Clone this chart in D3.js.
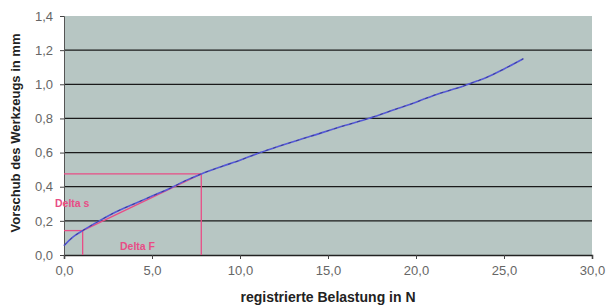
<!DOCTYPE html>
<html>
<head>
<meta charset="utf-8">
<script src="https://cdn.jsdelivr.net/npm/d3@7"></script>
<style>
body { margin: 0; background: #fff; }
text { font-family: "Liberation Sans", Arial, sans-serif; }
</style>
</head>
<body>
<svg width="607" height="307"></svg>
<script>
// Belastung (N) und Vorschub (mm)
var force = [0, 0.5, 1.06, 2, 3, 4, 5, 6, 7, 7.8, 9, 10, 11, 12, 14, 16, 17.3, 19, 20, 21, 22.7, 23.5, 24, 25, 26.1];
var feed = [0.055, 0.105, 0.143, 0.2, 0.255, 0.3, 0.345, 0.39, 0.44, 0.475, 0.52, 0.555, 0.595, 0.63, 0.695, 0.76, 0.8, 0.86, 0.895, 0.935, 0.99, 1.02, 1.04, 1.09, 1.15];
var deltaPoints = [[1.06, 0.143], [7.8, 0.475]];
var xTicks = [0, 5, 10, 15, 20, 25, 30];
var yTicks = [0, 0.2, 0.4, 0.6, 0.8, 1.0, 1.2, 1.4];

var svg = d3.select("svg");
var x = d3.scaleLinear().domain([0, 30]).range([64, 592]);
var y = d3.scaleLinear().domain([0, 1.4]).range([255, 16]);
var fmt = function(d) { return d.toFixed(1).replace(".", ","); };

svg.append("rect")
    .attr("x", x(0)).attr("y", y(1.4))
    .attr("width", x(30) - x(0)).attr("height", y(0) - y(1.4))
    .style("fill", "#b7c6c3");

svg.append("g").selectAll("line")
    .data(yTicks.filter(function(d) { return d > 0 && d < 1.4; }))
    .enter().append("line")
    .attr("x1", x(0)).attr("x2", x(30))
    .attr("y1", function(d) { return y(d); })
    .attr("y2", function(d) { return y(d); })
    .style("stroke", "#1a1a1a").style("stroke-width", 1.3);

svg.append("g")
    .attr("transform", "translate(0," + y(0) + ")")
    .call(d3.axisBottom(x).tickValues(xTicks).tickFormat(fmt).tickSizeOuter(0).tickSize(4))
    .call(function(g) {
        g.select(".domain").style("stroke", "#222").style("stroke-width", 1.5);
        g.selectAll(".tick line").style("stroke", "#444");
        g.selectAll("text").attr("y", 11).attr("dy", "0.71em").style("font-size", "13px").style("fill", "#666");
    });

svg.append("g")
    .attr("transform", "translate(" + x(0) + ",0)")
    .call(d3.axisLeft(y).tickValues(yTicks).tickFormat(fmt).tickSizeOuter(0).tickSize(4))
    .call(function(g) {
        g.select(".domain").style("stroke", "#555");
        g.selectAll(".tick line").style("stroke", "#444");
        g.selectAll("text").attr("x", -11).style("font-size", "13px").style("fill", "#666");
    });

var pink = "#e84d86";
var lines = svg.append("g").style("stroke", pink).style("stroke-width", 1.3).style("fill", "none");
deltaPoints.forEach(function(p) {
    lines.append("line")
        .attr("x1", x(0)).attr("x2", x(p[0]))
        .attr("y1", y(p[1])).attr("y2", y(p[1]));
    lines.append("line")
        .attr("x1", x(p[0])).attr("x2", x(p[0]))
        .attr("y1", y(0)).attr("y2", y(p[1]));
});
lines.append("line")
    .attr("x1", x(deltaPoints[0][0])).attr("y1", y(deltaPoints[0][1]))
    .attr("x2", x(deltaPoints[1][0])).attr("y2", y(deltaPoints[1][1]));

var line = d3.line()
    .x(function(d, i) { return x(force[i]); })
    .y(function(d) { return y(d); })
    .curve(d3.curveMonotoneX);

svg.append("path")
    .attr("d", line(feed))
    .style("fill", "none").style("stroke", "#5559d8").style("stroke-width", 1.6);
svg.append("path")
    .attr("d", line(feed))
    .style("fill", "none").style("stroke", "#2a2a60").style("stroke-width", 1)
    .style("stroke-dasharray", "3,5").style("opacity", 0.6);

svg.append("text").attr("x", 55).attr("y", 207)
    .text("Delta s").style("fill", pink).style("font-size", "10.5px").style("font-weight", "bold");
svg.append("text").attr("x", 120).attr("y", 250)
    .text("Delta F").style("fill", pink).style("font-size", "10.5px").style("font-weight", "bold");

svg.append("text")
    .attr("x", 328).attr("y", 302).attr("text-anchor", "middle")
    .text("registrierte Belastung in N")
    .style("font-size", "14px").style("font-weight", "bold").style("fill", "#222");

svg.append("text")
    .attr("transform", "translate(20,133) rotate(-90)").attr("text-anchor", "middle")
    .text("Vorschub des Werkzeugs in mm")
    .style("font-size", "13px").style("font-weight", "bold").style("fill", "#222");
</script>
</body>
</html>
